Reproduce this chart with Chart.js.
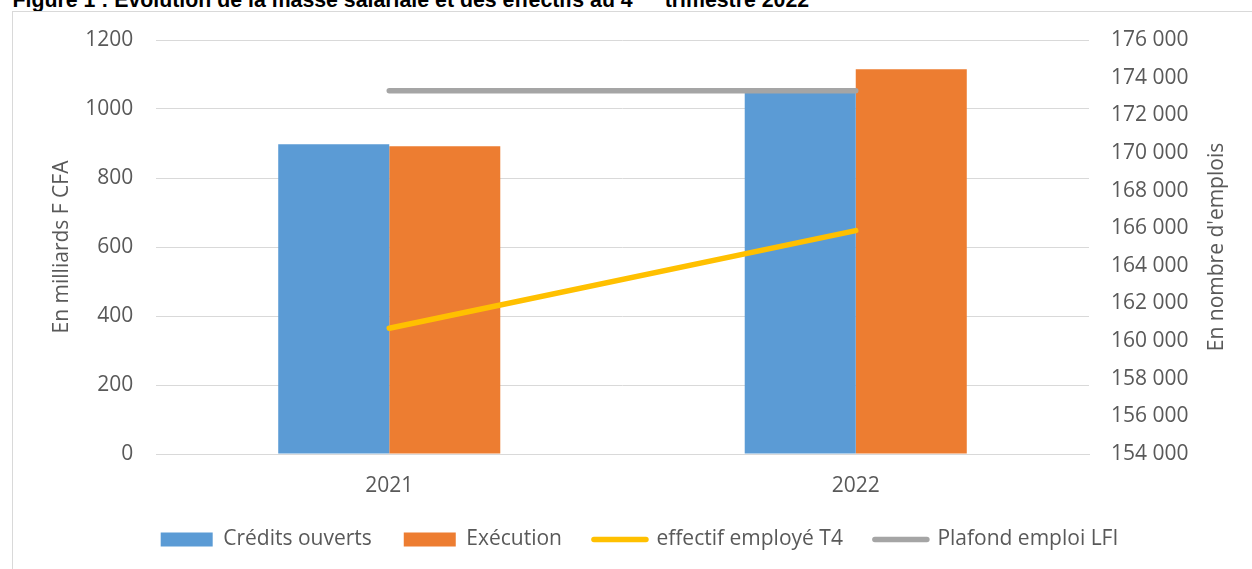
<!DOCTYPE html>
<html>
<head>
<meta charset="utf-8">
<script src="https://cdn.jsdelivr.net/npm/chart.js@4.4.1/dist/chart.umd.min.js"></script>
<style>
  html, body { margin: 0; padding: 0; background: #fff; width: 1252px; height: 569px; overflow: hidden; }
  #title { position: absolute; left: 12.5px; top: -10px; font: bold 21.3px/21px "Liberation Sans", Arial, sans-serif; color: #000; white-space: nowrap; z-index: 1; }
  #title sup { font-size: 13px; vertical-align: 8px; line-height: 0; }
  #frame { position: absolute; left: 12px; top: 11px; width: 1300px; height: 600px; background: #fff; border: 1px solid #d9d9d9; z-index: 2; }
  #wrap { position: absolute; left: 0; top: 0; width: 1252px; height: 569px; z-index: 3; }
</style>
</head>
<body>
<div id="title">Figure 1 : Evolution de la masse salariale et des effectifs au 4<sup>ème</sup> trimestre 2022</div>
<div id="frame"></div>
<div id="wrap"><canvas id="c" width="1252" height="569"></canvas></div>
<script>
// ---- data ----
const categories = ['2021', '2022'];
const creditsOuverts = [898, 1052];
const execution = [892, 1115];
const effectifEmploye = [160680, 165870];
const plafondEmploi = [173300, 173300];
const seriesNames = ['Crédits ouverts', 'Exécution', 'effectif employé T4', 'Plafond emploi LFI'];
const leftAxisTitle = 'En milliards F CFA';
const rightAxisTitle = "En nombre d'emplois";

const FONT = '"Open Sans", "Liberation Sans", sans-serif';
const TXT = '#595959';
const GRID = '#d9d9d9';

function fmtSpace(v) {
  return String(v).replace(/\B(?=(\d{3})+(?!\d))/g, ' ');
}

const rightTitlePlugin = {
  id: 'rightTitle',
  afterDraw(chart) {
    const s = chart.scales.y1;
    const ctx = chart.ctx;
    const lh = 21 * 1.2;
    ctx.save();
    ctx.font = '21px ' + FONT;
    ctx.fillStyle = TXT;
    ctx.textAlign = 'center';
    ctx.textBaseline = 'middle';
    ctx.translate(s.right - lh / 2, (s.top + s.bottom) / 2);
    ctx.rotate(-Math.PI / 2);
    ctx.fillText(rightAxisTitle, 0, 0);
    ctx.restore();
  }
};

new Chart(document.getElementById('c'), {
  data: {
    labels: categories,
    datasets: [
      { type: 'bar', label: seriesNames[0], data: creditsOuverts, backgroundColor: '#5B9BD5', yAxisID: 'y', order: 1,
        categoryPercentage: 0.476, barPercentage: 1.0 },
      { type: 'bar', label: seriesNames[1], data: execution, backgroundColor: '#ED7D31', yAxisID: 'y', order: 1,
        categoryPercentage: 0.476, barPercentage: 1.0 },
      { type: 'line', label: seriesNames[2], data: effectifEmploye, borderColor: '#FFC000', backgroundColor: '#FFC000',
        borderWidth: 5.5, borderCapStyle: 'round', pointRadius: 0, pointHoverRadius: 0, tension: 0, yAxisID: 'y1', order: 0 },
      { type: 'line', label: seriesNames[3], data: plafondEmploi, borderColor: '#A5A5A5', backgroundColor: '#A5A5A5',
        borderWidth: 5.5, borderCapStyle: 'round', pointRadius: 0, pointHoverRadius: 0, tension: 0, yAxisID: 'y1', order: 0 }
    ]
  },
  options: {
    responsive: false,
    animation: false,
    devicePixelRatio: 1,
    layout: { padding: { left: 49.4, right: 22.4, top: 40, bottom: 9 } },
    scales: {
      x: {
        type: 'category',
        offset: true,
        grid: { display: false, drawTicks: false },
        border: { display: true, color: GRID, width: 1 },
        ticks: { color: TXT, font: { family: FONT, size: 21 }, padding: 19.4 },
        afterFit(scale) { scale.height = 43; }
      },
      y: {
        position: 'left',
        min: 0, max: 1200,
        ticks: { stepSize: 200, color: TXT, font: { family: FONT, size: 21 }, padding: 22.7, callback: (v) => String(v) },
        grid: { color: GRID, lineWidth: 1, drawTicks: false },
        border: { display: false },
        title: { display: true, text: leftAxisTitle, color: TXT, font: { family: FONT, size: 21 }, padding: { top: 0, bottom: 10 } },
        afterFit(scale) { scale.width = 106.6; }
      },
      y1: {
        position: 'right',
        min: 154000, max: 176000,
        ticks: { stepSize: 2000, color: TXT, font: { family: FONT, size: 21 }, padding: 22, callback: (v) => fmtSpace(v) },
        grid: { display: false, drawTicks: false },
        border: { display: false },
        title: { display: true, text: rightAxisTitle, color: 'rgba(0,0,0,0)', font: { family: FONT, size: 21 }, padding: { top: 0, bottom: 15 } },
        afterFit(scale) { scale.width = 140.6; }
      }
    },
    plugins: {
      tooltip: { enabled: false },
      legend: {
        position: 'bottom',
        labels: {
          color: TXT,
          font: { family: FONT, size: 21 },
          usePointStyle: true,
          pointStyleWidth: 52,
          boxHeight: 14,
          padding: 32,
          generateLabels(chart) {
            return chart.data.datasets.map((ds, i) => {
              const isLine = ds.type === 'line';
              return {
                text: ds.label,
                fillStyle: isLine ? 'rgba(0,0,0,0)' : ds.backgroundColor,
                strokeStyle: isLine ? ds.borderColor : 'rgba(0,0,0,0)',
                lineWidth: isLine ? 5.5 : 0,
                lineCap: isLine ? 'round' : 'butt',
                pointStyle: isLine ? 'line' : 'rect',
                fontColor: TXT,
                hidden: false,
                datasetIndex: i
              };
            });
          }
        }
      }
    }
  },
  plugins: [rightTitlePlugin]
});
</script>
</body>
</html>
